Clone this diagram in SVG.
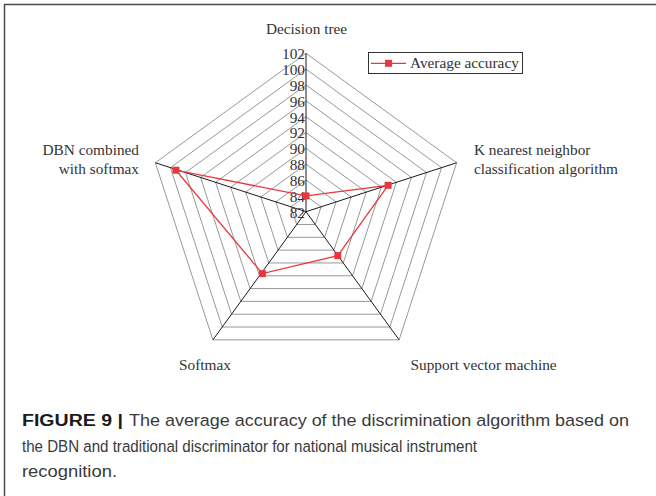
<svg xmlns="http://www.w3.org/2000/svg" width="656" height="496" viewBox="0 0 656 496">
  <style>
    .ring { fill: none; stroke: #8c8c8c; stroke-width: 0.9; }
    .axis { stroke: #1a1a1a; stroke-width: 1; }
    .serif { font-family: "Liberation Serif", "Times New Roman", serif; font-size: 15.3px; fill: #333; }
    .tick { text-anchor: end; }
    .series { fill: none; stroke: #e8383d; stroke-width: 1.3; }
    .mark { fill: #e8383d; }
    .cap { font-family: "Liberation Sans", Arial, sans-serif; font-size: 16.8px; fill: #3a3a3a; }
    .capb { font-weight: bold; fill: #1a1a1a; }
  </style>

  <rect width="656" height="496" fill="#fff"/>

  <!-- frame: top and left rules -->
  <path d="M4,4.5 H656 M4.5,4 V496" stroke="#4d4d4d" stroke-width="1.5" fill="none"/>

  <!-- radar grid: one pentagon per 2-point step (82 to 102) -->
  <g id="grid">
    <polygon class="ring" points="306,195.86 321.07,206.81 315.31,224.52 296.69,224.52 290.94,206.81"/>
    <polygon class="ring" points="306,180.02 336.13,201.91 324.62,237.33 287.38,237.33 275.87,201.91"/>
    <polygon class="ring" points="306,164.18 351.19,197.02 333.93,250.14 278.07,250.14 260.81,197.02"/>
    <polygon class="ring" points="306,148.34 366.26,192.12 343.24,262.96 268.76,262.96 245.74,192.12"/>
    <polygon class="ring" points="306,132.5 381.32,187.23 352.55,275.77 259.45,275.77 230.68,187.23"/>
    <polygon class="ring" points="306,116.66 396.39,182.33 361.86,288.59 250.14,288.59 215.61,182.33"/>
    <polygon class="ring" points="306,100.82 411.45,177.44 371.17,301.40 240.83,301.40 200.55,177.44"/>
    <polygon class="ring" points="306,84.98 426.52,172.54 380.48,314.22 231.52,314.22 185.48,172.54"/>
    <polygon class="ring" points="306,69.14 441.58,167.65 389.80,327.03 222.21,327.03 170.42,167.65"/>
    <polygon class="ring" points="306,53.3 456.65,162.75 399.11,339.85 212.90,339.85 155.35,162.75"/>
  </g>

  <!-- spokes -->
  <g id="axes">
    <line class="axis" x1="306" y1="211.7" x2="306" y2="53.3"/>
    <line class="axis" x1="306" y1="211.7" x2="456.65" y2="162.75"/>
    <line class="axis" x1="306" y1="211.7" x2="399.11" y2="339.85"/>
    <line class="axis" x1="306" y1="211.7" x2="212.90" y2="339.85"/>
    <line class="axis" x1="306" y1="211.7" x2="155.35" y2="162.75"/>
  </g>

  <!-- scale labels -->
  <g id="scale" class="serif tick">
    <text x="305" y="217.5">82</text>
    <text x="305" y="201.7">84</text>
    <text x="305" y="185.8">86</text>
    <text x="305" y="170">88</text>
    <text x="305" y="154.1">90</text>
    <text x="305" y="138.3">92</text>
    <text x="305" y="122.5">94</text>
    <text x="305" y="106.6">96</text>
    <text x="305" y="90.8">98</text>
    <text x="305" y="74.9">100</text>
    <text x="305" y="59.1">102</text>
  </g>

  <!-- data series -->
  <g id="series-average-accuracy">
    <polygon class="series" points="306,195.86 388.1,185.3 337.8,255.6 262.4,273.6 175.9,170.2"/>
    <rect class="mark" x="302.5" y="192.4" width="7" height="7"/>
    <rect class="mark" x="384.6" y="181.8" width="7" height="7"/>
    <rect class="mark" x="334.3" y="252.1" width="7" height="7"/>
    <rect class="mark" x="258.9" y="270.1" width="7" height="7"/>
    <rect class="mark" x="172.4" y="166.7" width="7" height="7"/>
  </g>

  <!-- category labels -->
  <g id="label-decision-tree" class="serif">
    <text x="306.5" y="34" text-anchor="middle">Decision tree</text>
  </g>
  <g id="label-knn" class="serif">
    <text x="474" y="155">K nearest neighbor</text>
    <text x="474" y="173.5">classification algorithm</text>
  </g>
  <g id="label-svm" class="serif">
    <text x="410.5" y="369.5">Support vector machine</text>
  </g>
  <g id="label-softmax" class="serif">
    <text x="179" y="369.5">Softmax</text>
  </g>
  <g id="label-dbn" class="serif" text-anchor="end">
    <text x="139" y="155">DBN combined</text>
    <text x="139" y="174">with softmax</text>
  </g>

  <!-- legend -->
  <g id="legend">
    <rect x="368.5" y="52.5" width="154" height="21" fill="#fff" stroke="#333" stroke-width="1"/>
    <line x1="371" y1="63.3" x2="406" y2="63.3" stroke="#e8383d" stroke-width="1.3"/>
    <rect class="mark" x="385" y="59.8" width="7" height="7"/>
    <text class="serif" x="410" y="67.5">Average accuracy</text>
  </g>

  <!-- caption -->
  <g id="caption" class="cap">
    <text class="capb" x="22" y="426" textLength="101" lengthAdjust="spacingAndGlyphs">FIGURE 9 |</text>
    <text x="129" y="426" textLength="500" lengthAdjust="spacingAndGlyphs">The average accuracy of the discrimination algorithm based on</text>
    <text x="22" y="451.5" textLength="455" lengthAdjust="spacingAndGlyphs">the DBN and traditional discriminator for national musical instrument</text>
    <text x="22" y="477" textLength="95" lengthAdjust="spacingAndGlyphs">recognition.</text>
  </g>
</svg>
